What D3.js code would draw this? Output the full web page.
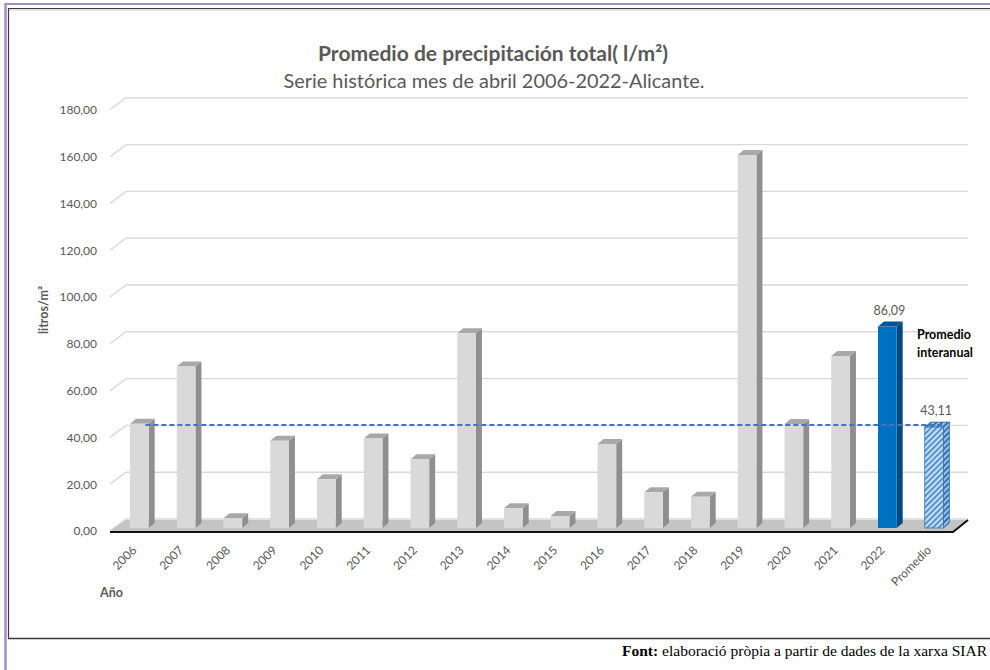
<!DOCTYPE html>
<html><head><meta charset="utf-8">
<script src="https://cdn.jsdelivr.net/npm/d3@7"></script>
<style>body{margin:0;background:#fff}svg{display:block}</style>
</head><body><svg id="c" width="990" height="670"></svg>
<script>
const categories = ["2006","2007","2008","2009","2010","2011","2012","2013","2014","2015","2016","2017","2018","2019","2020","2021","2022","Promedio"];
const values = [44.5,69.0,4.2,37.3,20.8,38.3,29.4,83.2,8.4,5.1,35.9,15.3,13.4,159.4,44.4,73.5,86.09,43.11];
const yTicks = [0,20,40,60,80,100,120,140,160,180];
const promedio = 43.11;
const highlighted = "2022";
const avgCat = "Promedio";

const svg = d3.select("#c");
const fmt = v => d3.format(".2f")(v).replace(".", ",");
const font = "Lato, 'Open Sans', sans-serif";
const grey = "#595959";

// frame
svg.append("rect").attr("width",990).attr("height",670).attr("fill","#fff");
svg.append("line").attr("x1",5).attr("x2",990).attr("y1",4).attr("y2",4).attr("stroke","#a48bc4").attr("stroke-width",2);
svg.append("line").attr("x1",5.5).attr("x2",5.5).attr("y1",3).attr("y2",670).attr("stroke","#a48bc4").attr("stroke-width",2.5);
svg.append("line").attr("x1",8).attr("x2",990).attr("y1",8.5).attr("y2",8.5).attr("stroke","#3a3a3a").attr("stroke-width",1.2);
svg.append("line").attr("x1",9).attr("x2",990).attr("y1",10).attr("y2",10).attr("stroke","#c8c8c8").attr("stroke-width",1);
svg.append("line").attr("x1",8.5).attr("x2",8.5).attr("y1",8).attr("y2",639).attr("stroke","#3a3a3a").attr("stroke-width",1.2);
svg.append("line").attr("x1",8).attr("x2",990).attr("y1",638.5).attr("y2",638.5).attr("stroke","#3a3a3a").attr("stroke-width",1.5);

// scales
const y = d3.scaleLinear().domain([0,180]).range([528, 528 - 180*2.34]);
const x = d3.scaleBand().domain(categories).range([115.97, 957.47]).paddingInner(0.6).paddingOuter(0.3);
const bw = x.bandwidth();
const dx = 6, dy = 5;   // bar depth
const gx = 16, gy = 12; // wall depth

// gridlines (back wall + left wall diagonal)
const grid = svg.append("g");
yTicks.forEach(t => {
  const yf = y(t) + 3;
  grid.append("path")
    .attr("d", `M110,${yf}L${110+gx},${yf-gy}L968,${yf-gy}`)
    .attr("fill","none").attr("stroke","#d9d9d9").attr("stroke-width",1.4);
});

// floor
const yf0 = y(0) + 3;
svg.append("path")
  .attr("d", `M110,${yf0}L${110+gx},${yf0-gy+1}L968,${yf0-gy+1}L953,${yf0}Z`)
  .attr("fill","#c4c4c4");
svg.append("path")
  .attr("d", `M110,${yf0+1}L953,${yf0+1}L968,${yf0-gy+1}`)
  .attr("fill","none").attr("stroke","#111").attr("stroke-width",2);

// hatch pattern
const defs = svg.append("defs");
const pat = defs.append("pattern").attr("id","hatch").attr("patternUnits","userSpaceOnUse")
  .attr("width",4).attr("height",4).attr("patternTransform","rotate(45)");
pat.append("rect").attr("width",4).attr("height",4).attr("fill","#c9def2");
pat.append("rect").attr("width",1.6).attr("height",4).attr("fill","#3b82c8");
const pat2 = defs.append("pattern").attr("id","hatch2").attr("patternUnits","userSpaceOnUse")
  .attr("width",4).attr("height",4).attr("patternTransform","rotate(45)");
pat2.append("rect").attr("width",4).attr("height",4).attr("fill","#9cc0e4");
pat2.append("rect").attr("width",1.6).attr("height",4).attr("fill","#1f5f9e");

// bars
const bars = svg.append("g");
categories.forEach((c,i) => {
  const v = values[i];
  const x0 = x(c), yt = y(v), yb = y(0);
  let front="#d9d9d9", side="#8f8f8f", top="#a8a8a8", stroke="none";
  if (c === highlighted) { front="#0070c0"; side="#004a80"; top="#005694"; }
  if (c === avgCat) { front="url(#hatch)"; side="url(#hatch2)"; top="url(#hatch2)"; stroke="#2e75b6"; }
  const g = bars.append("g");
  g.append("path").attr("d", `M${x0+bw},${yt}L${x0+bw+dx},${yt-dy}L${x0+bw+dx},${yb-dy}L${x0+bw},${yb}Z`)
    .attr("fill", side).attr("stroke", stroke).attr("stroke-width",0.8);
  g.append("path").attr("d", `M${x0},${yt}L${x0+dx},${yt-dy}L${x0+bw+dx},${yt-dy}L${x0+bw},${yt}Z`)
    .attr("fill", top).attr("stroke", stroke).attr("stroke-width",0.8);
  g.append("rect").attr("x",x0).attr("y",yt).attr("width",bw).attr("height",yb-yt)
    .attr("fill", front).attr("stroke", stroke).attr("stroke-width",0.8);
});

// average dashed line
const yAvg = y(promedio) - 2;
svg.append("line")
  .attr("x1", x(categories[0]) + bw/2 + 6).attr("x2", x(avgCat) + bw + 2)
  .attr("y1", yAvg).attr("y2", yAvg)
  .attr("stroke","#4472c4").attr("stroke-width",2).attr("stroke-dasharray","5,3");

// value labels
[highlighted, avgCat].forEach(c => {
  const i = categories.indexOf(c);
  svg.append("text").attr("x", x(c) + bw/2 + 2).attr("y", y(values[i]) - 12)
    .attr("text-anchor","middle").attr("font-family",font).attr("font-size",12.5).attr("fill",grey)
    .text(fmt(values[i]));
});
const ann = svg.append("text").attr("font-family",font).attr("font-size",12.5).attr("font-weight","bold").attr("fill","#000");
ann.append("tspan").attr("x",917).attr("y",339).text("Promedio");
ann.append("tspan").attr("x",917).attr("y",357).text("interanual");

// y axis
const yAxis = svg.append("g").attr("transform","translate(100,3)")
  .call(d3.axisLeft(y).tickValues(yTicks).tickSize(0).tickPadding(3).tickFormat(fmt));
yAxis.select(".domain").remove();
yAxis.selectAll("text").attr("font-family",font).attr("font-size",12).attr("fill",grey);

// x axis
const xAxis = svg.append("g").attr("transform","translate(0,535)")
  .call(d3.axisBottom(x).tickSize(0).tickPadding(0));
xAxis.select(".domain").remove();
xAxis.selectAll("text")
  .attr("font-family",font).attr("font-size",12).attr("fill",grey)
  .attr("text-anchor","end").attr("dy",0)
  .attr("transform","translate(-2,16) rotate(-45)");

// titles
svg.append("text").attr("x",493).attr("y",61).attr("text-anchor","middle")
  .attr("font-family",font).attr("font-size",20.5).attr("font-weight","bold").attr("fill",grey)
  .attr("textLength",350).attr("lengthAdjust","spacingAndGlyphs")
  .text("Promedio de precipitación total( l/m²)");
svg.append("text").attr("x",494).attr("y",88).attr("text-anchor","middle")
  .attr("font-family",font).attr("font-size",19.5).attr("fill",grey)
  .attr("textLength",421).attr("lengthAdjust","spacingAndGlyphs")
  .text("Serie histórica mes de abril 2006-2022-Alicante.");

svg.append("text").attr("transform","translate(48,310) rotate(-90)").attr("text-anchor","middle")
  .attr("font-family",font).attr("font-size",12.5).attr("font-weight","bold").attr("fill",grey)
  .text("litros/m²");
svg.append("text").attr("x",100).attr("y",597)
  .attr("font-family",font).attr("font-size",12.5).attr("font-weight","bold").attr("fill",grey)
  .text("Año");

// footer
const ft = svg.append("text").attr("x",987).attr("y",656).attr("text-anchor","end")
  .attr("font-family","'Liberation Serif', 'Times New Roman', serif").attr("font-size",15.5).attr("fill","#000");
ft.append("tspan").attr("font-weight","bold").text("Font:");
ft.append("tspan").text(" elaboració pròpia a partir de dades de la xarxa SIAR");
</script></body></html>
